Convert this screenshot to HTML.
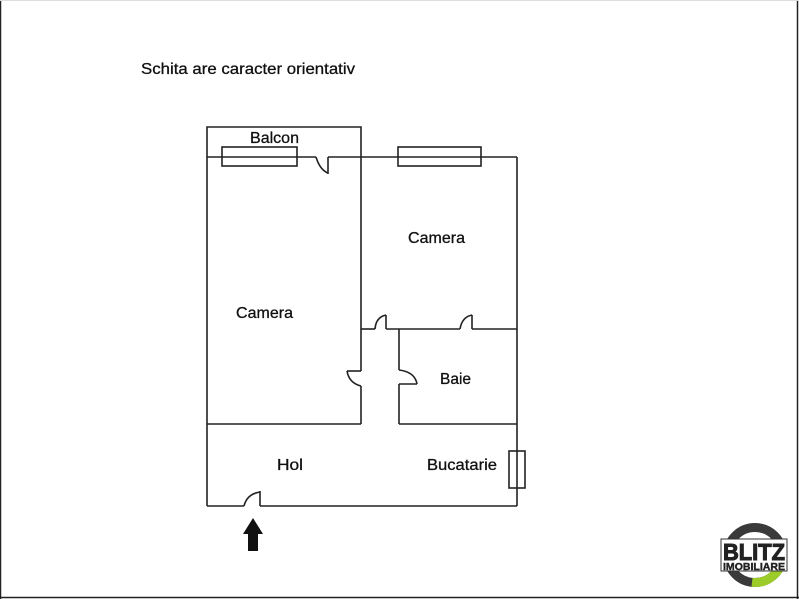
<!DOCTYPE html>
<html><head><meta charset="utf-8"><style>
html,body{margin:0;padding:0;background:#fff}
svg{display:block}
text{font-family:"Liberation Sans",sans-serif;fill:#111}
</style></head><body>
<svg width="799" height="599" viewBox="0 0 799 599" xmlns="http://www.w3.org/2000/svg">
<rect x="0" y="0" width="799" height="599" fill="#fff"/>
<line x1="0.5" y1="0" x2="0.5" y2="599" stroke="#222" stroke-width="1.5"/>
<line x1="797.5" y1="0" x2="797.5" y2="599" stroke="#222" stroke-width="1.5"/>
<line x1="0" y1="597.5" x2="799" y2="597.5" stroke="#222" stroke-width="1.5"/>
<line x1="0" y1="0.5" x2="799" y2="0.5" stroke="#ddd" stroke-width="1"/>

<g fill="none" stroke="#222" stroke-width="1.6">
<polyline points="207,157 207,127 361,127 361,157"/>
<line x1="207" y1="157" x2="316" y2="157"/>
<path d="M316,157 Q320,170 328,173"/>
<line x1="328" y1="157" x2="328" y2="174"/>
<line x1="328" y1="157" x2="517" y2="157"/>
<rect x="222" y="147" width="75" height="19"/>
<rect x="398" y="147" width="83" height="19"/>
<line x1="207" y1="157" x2="207" y2="506"/>
<line x1="517" y1="157" x2="517" y2="506"/>
<line x1="207" y1="506" x2="244" y2="506"/>
<path d="M244,506 Q247,494 260,492"/>
<line x1="260" y1="491" x2="260" y2="506"/>
<line x1="260" y1="506" x2="517" y2="506"/>
<line x1="361" y1="157" x2="361" y2="371"/>
<line x1="347" y1="371" x2="361" y2="371"/>
<path d="M347,371 Q349,383 361,386"/>
<line x1="361" y1="386" x2="361" y2="424"/>
<line x1="207" y1="424" x2="361" y2="424"/>
<line x1="361" y1="329" x2="375" y2="329"/>
<path d="M375,329 Q376,317 386,315"/>
<line x1="386" y1="315" x2="386" y2="329"/>
<line x1="386" y1="329" x2="460" y2="329"/>
<path d="M460,329 Q462,317 472,315"/>
<line x1="472" y1="315" x2="472" y2="329"/>
<line x1="472" y1="329" x2="517" y2="329"/>
<line x1="399" y1="329" x2="399" y2="370"/>
<path d="M399,370 Q415,372 417,384"/>
<line x1="399" y1="384" x2="417" y2="384"/>
<line x1="399" y1="384" x2="399" y2="424"/>
<line x1="399" y1="424" x2="517" y2="424"/>
<rect x="509" y="451" width="16" height="37"/>
</g>
<polygon points="253,518 263,534 258,534 258,551 248,551 248,534 243,534" fill="#111"/>

<g style="stroke:#111;stroke-width:0.3">
<text x="141" y="74" font-size="16" textLength="214" lengthAdjust="spacingAndGlyphs">Schita are caracter orientativ</text>
<text x="250" y="143" font-size="16" textLength="49" lengthAdjust="spacingAndGlyphs">Balcon</text>
<text x="408" y="243" font-size="16" textLength="57" lengthAdjust="spacingAndGlyphs">Camera</text>
<text x="236" y="318" font-size="16" textLength="57" lengthAdjust="spacingAndGlyphs">Camera</text>
<text x="440" y="384" font-size="16" textLength="31" lengthAdjust="spacingAndGlyphs">Baie</text>
<text x="277" y="470" font-size="16" textLength="26" lengthAdjust="spacingAndGlyphs">Hol</text>
<text x="427" y="470" font-size="16" textLength="70" lengthAdjust="spacingAndGlyphs">Bucatarie</text>
</g>

<circle cx="755" cy="555" r="27.5" fill="none" stroke="#3a3a3a" stroke-width="9"/>
<path d="M782.5,557 A27.5,27.5 0 0 1 752,582.3" fill="none" stroke="#9ccc2a" stroke-width="9"/>
<rect x="721" y="539" width="66" height="32" fill="#fff" stroke="#333" stroke-width="1"/>
<text x="754" y="560" font-size="23" font-weight="bold" text-anchor="middle" textLength="62" lengthAdjust="spacingAndGlyphs" style="fill:#222;stroke:#222;stroke-width:1">BLITZ</text>
<text x="754" y="570" font-size="10" font-weight="bold" text-anchor="middle" textLength="62" lengthAdjust="spacingAndGlyphs" style="fill:#222;stroke:#222;stroke-width:0.4">IMOBILIARE</text>
</svg>
</body></html>
